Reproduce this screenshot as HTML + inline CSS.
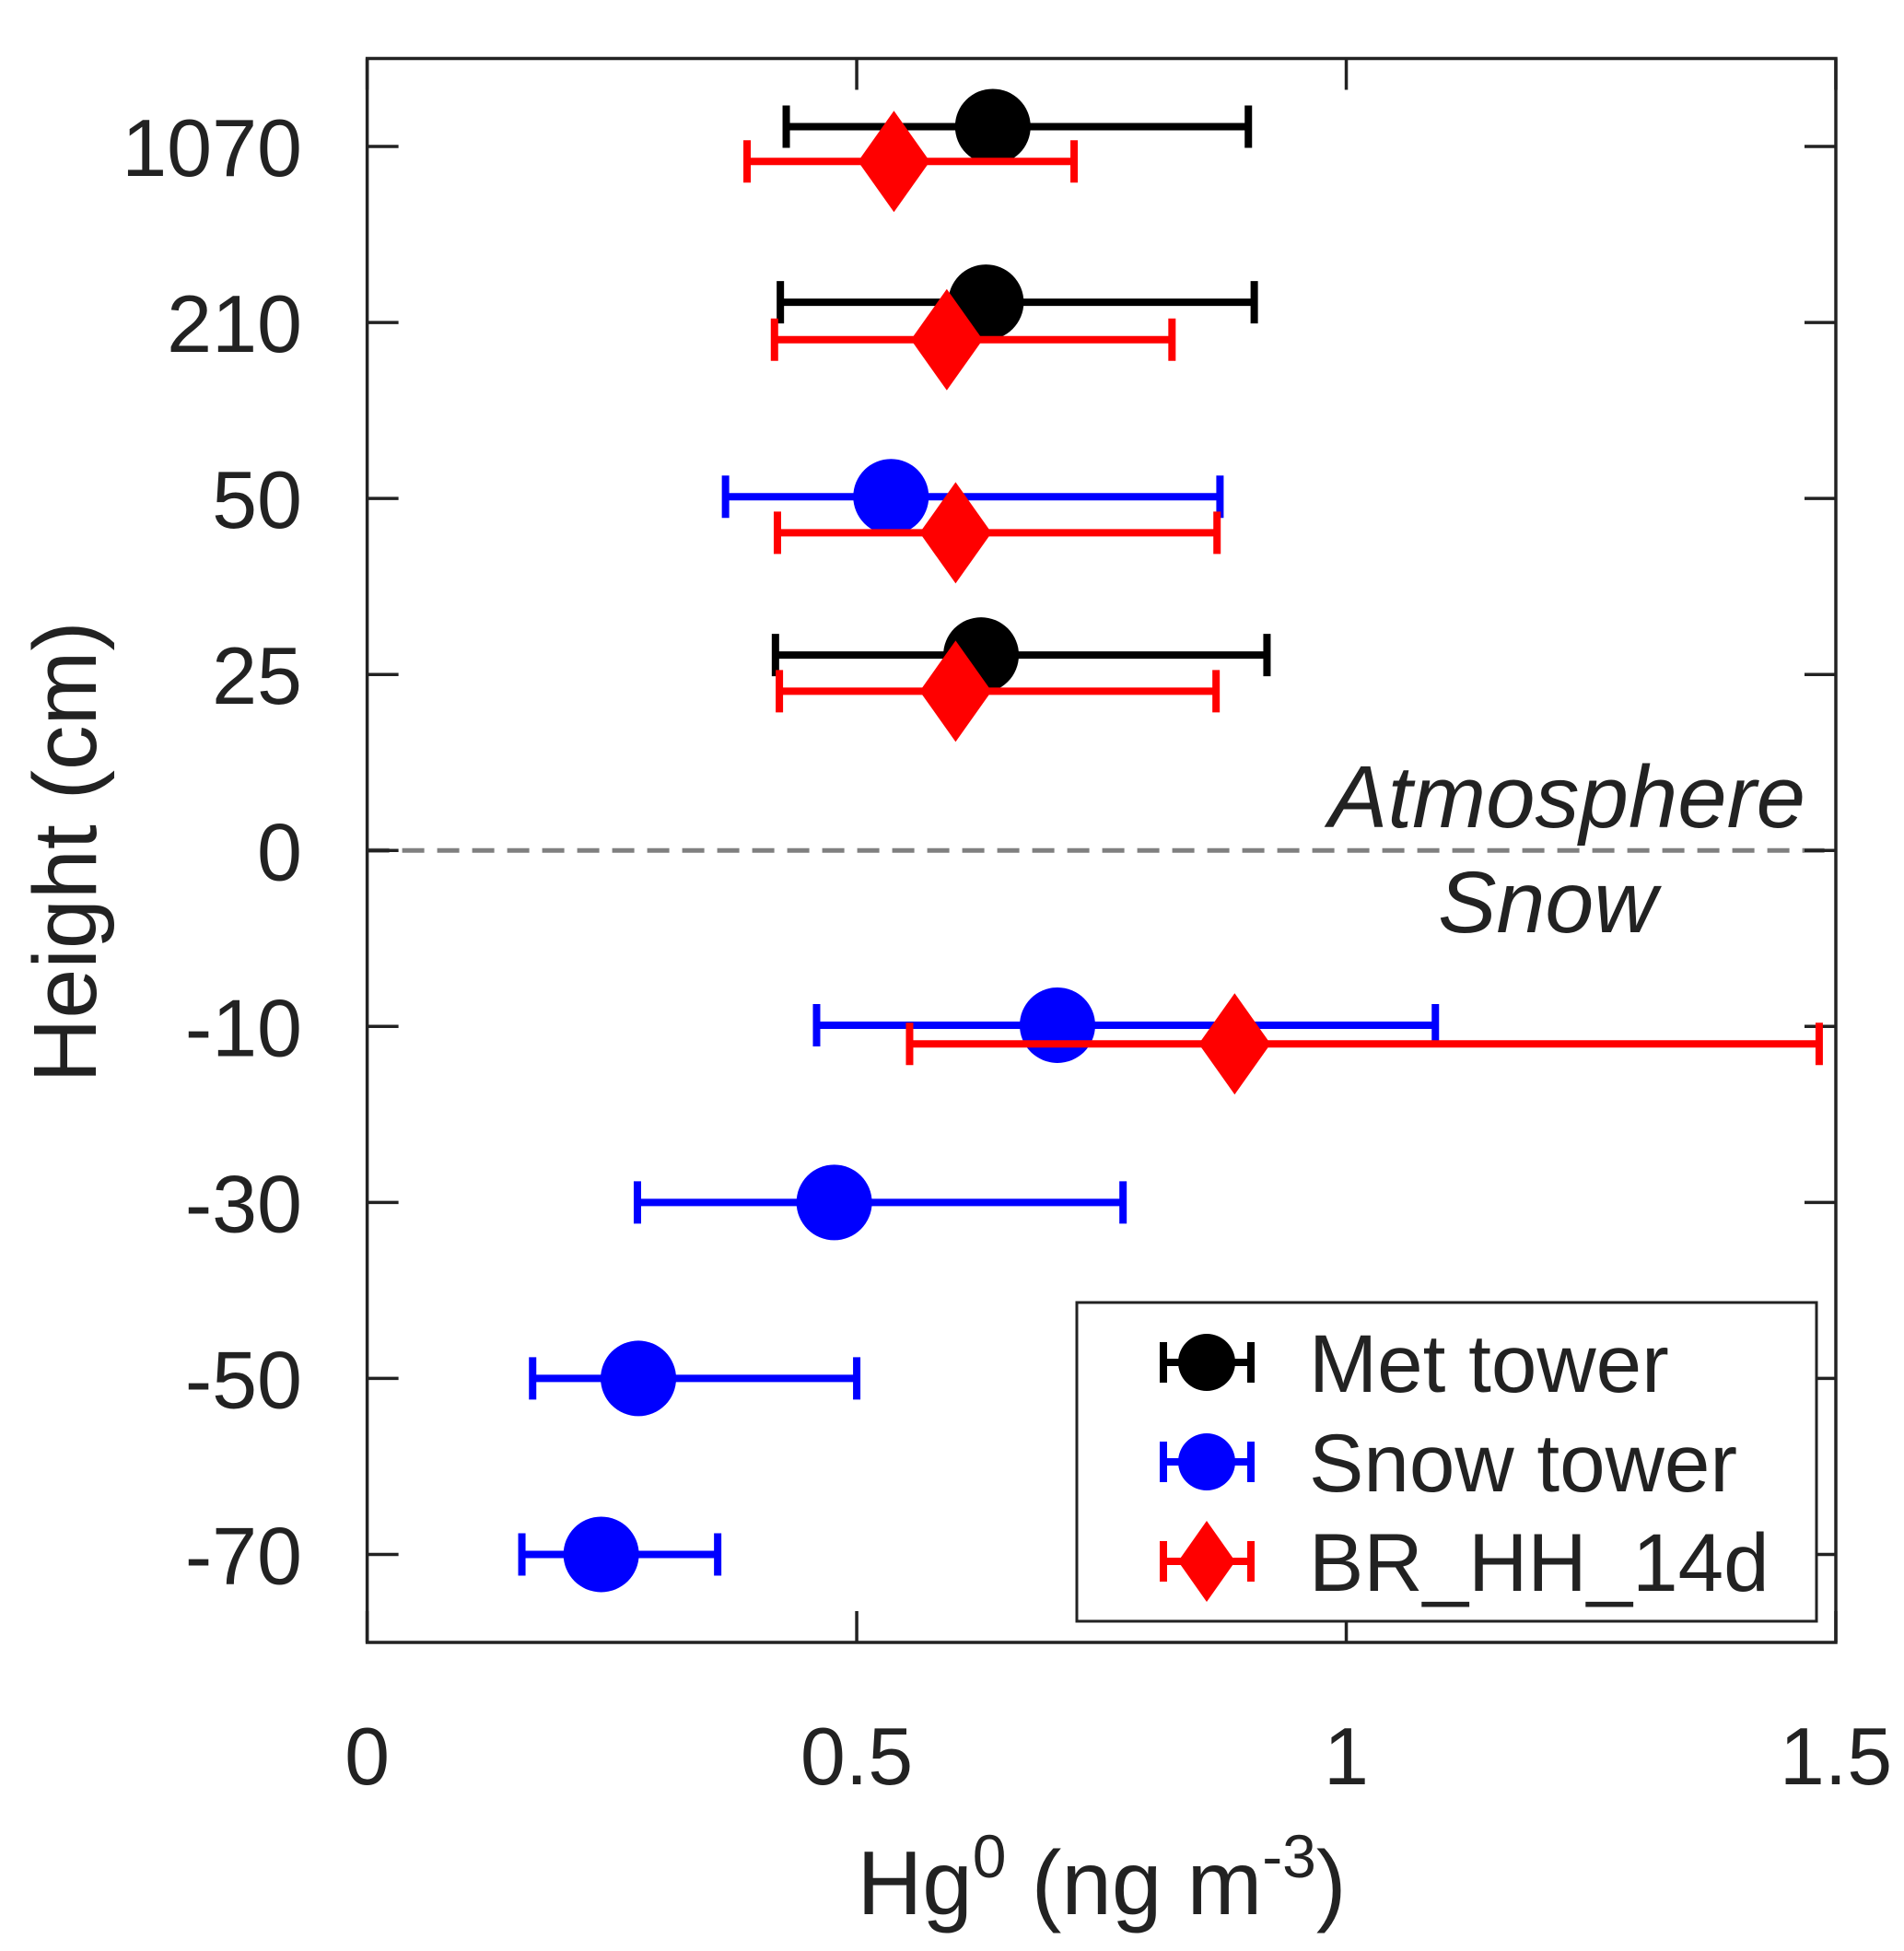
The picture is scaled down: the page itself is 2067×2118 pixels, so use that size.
<!DOCTYPE html>
<html><head><meta charset="utf-8"><style>html,body{margin:0;padding:0;background:#fff}svg{display:block}text{font-family:"Liberation Sans",Arial,sans-serif;fill:#222}</style></head>
<body>
<svg id="chart" width="2067" height="2118" viewBox="0 0 2067 2118" xmlns="http://www.w3.org/2000/svg">
<g id="plot"></g>
</svg>
<script>
const yCategories = ["1070","210","50","25","0","-10","-30","-50","-70"];
const xTicks = [0, 0.5, 1, 1.5];
const xTickLabels = ["0","0.5","1","1.5"];
const metX = [0.639, 0.632, 0.627];
const metLo = [0.428, 0.422, 0.417];
const metHi = [0.900, 0.906, 0.919];
const metY = [-0.113, 0.885, 2.89];
const snowX = [0.535, 0.705, 0.477, 0.277, 0.239];
const snowLo = [0.366, 0.459, 0.276, 0.169, 0.158];
const snowHi = [0.871, 1.091, 0.772, 0.500, 0.358];
const snowY = [1.99, 4.993, 6.0, 7.0, 8.0];
const brX = [0.538, 0.592, 0.601, 0.601, 0.886];
const brLo = [0.388, 0.416, 0.419, 0.421, 0.554];
const brHi = [0.722, 0.822, 0.868, 0.867, 1.483];
const brY = [0.085, 1.098, 2.195, 3.095, 5.099];

const L=398.6,R=1993,T=63.5,B=1783;
const xs=v=>L+(v-0)/1.5*(R-L);
const ys=i=>T+(i+0.5)/9*(B-T);
const NS="http://www.w3.org/2000/svg";
const g=document.getElementById('plot');
function mk(tag,attrs,parent){const e=document.createElementNS(NS,tag);for(const k in attrs)e.setAttribute(k,attrs[k]);(parent||g).appendChild(e);return e;}

let dl=mk('line',{x1:L,x2:R,y1:ys(4),y2:ys(4),stroke:'#808080','stroke-width':5,'stroke-dasharray':'24,14'});



let box=mk('rect',{x:L,y:T,width:R-L,height:B-T,fill:'none',stroke:'#222','stroke-width':3.5});



xTicks.forEach((v,i)=>{
  mk('line',{x1:xs(v),x2:xs(v),y1:B,y2:B-34,stroke:'#222','stroke-width':3.5});
  mk('line',{x1:xs(v),x2:xs(v),y1:T,y2:T+34,stroke:'#222','stroke-width':3.5});
  let t=mk('text',{x:xs(v),y:1937,'text-anchor':'middle','font-size':88});
  t.textContent=xTickLabels[i];
  
  
});
yCategories.forEach((c,i)=>{
  mk('line',{x1:L,x2:L+34,y1:ys(i),y2:ys(i),stroke:'#222','stroke-width':3.5});
  mk('line',{x1:R,x2:R-34,y1:ys(i),y2:ys(i),stroke:'#222','stroke-width':3.5});
  let t=mk('text',{x:328,y:ys(i)+32,'text-anchor':'end','font-size':88});
  t.textContent=c;
  
  
});

function errbar(x,lo,hi,y,color,name){
  const py=ys(y);
  let gg=mk('g',{});
  
  
  mk('line',{x1:xs(lo),x2:xs(hi),y1:py,y2:py,stroke:color,'stroke-width':8},gg);
  mk('line',{x1:xs(lo),x2:xs(lo),y1:py-23,y2:py+23,stroke:color,'stroke-width':8},gg);
  mk('line',{x1:xs(hi),x2:xs(hi),y1:py-23,y2:py+23,stroke:color,'stroke-width':8},gg);
  return gg;
}
function circle(cx,cy,color,parent){return mk('circle',{cx:cx,cy:cy,r:41,fill:color},parent);}
function diamond(cx,cy,color,parent){return mk('polygon',{points:`${cx},${cy-55} ${cx+39},${cy} ${cx},${cy+55} ${cx-39},${cy}`,fill:color},parent);}

metX.forEach((v,i)=>{const gg=errbar(v,metLo[i],metHi[i],metY[i],'#000','met-tower-point');circle(xs(v),ys(metY[i]),'#000',gg);});
snowX.forEach((v,i)=>{const gg=errbar(v,snowLo[i],snowHi[i],snowY[i],'#0000ff','snow-tower-point');circle(xs(v),ys(snowY[i]),'#0000ff',gg);});
brX.forEach((v,i)=>{const gg=errbar(v,brLo[i],brHi[i],brY[i],'#ff0000','br-hh-14d-point');diamond(xs(v),ys(brY[i]),'#ff0000',gg);});

let a=mk('text',{x:1960,y:898,'text-anchor':'end','font-size':96,'font-style':'italic'});a.textContent='Atmosphere';


let s=mk('text',{x:1680,y:1012,'text-anchor':'middle','font-size':95,'font-style':'italic'});s.textContent='Snow';



let lg=mk('g',{});


mk('rect',{x:1169,y:1414,width:803,height:346,fill:'#fff',stroke:'#222','stroke-width':3},lg);
const legNames=['Met tower','Snow tower','BR_HH_14d'],legCol=['#000','#0000ff','#ff0000'],legY=[1479,1587,1695];
legNames.forEach((n,i)=>{
  let e=mk('g',{},lg);
  
  
  const y=legY[i],c=legCol[i];
  mk('line',{x1:1263,x2:1358,y1:y,y2:y,stroke:c,'stroke-width':8},e);
  mk('line',{x1:1263,x2:1263,y1:y-22,y2:y+22,stroke:c,'stroke-width':8},e);
  mk('line',{x1:1358,x2:1358,y1:y-22,y2:y+22,stroke:c,'stroke-width':8},e);
  if(i<2)circle(1310,y,c,e).setAttribute('r',31);else mk('polygon',{points:`1310,${y-44} 1341,${y} 1310,${y+44} 1279,${y}`,fill:c},e);
  let t=mk('text',{x:1421,y:y+32,'font-size':89},e);t.textContent=n;
});

let yt=mk('text',{x:0,y:0,'text-anchor':'middle','font-size':97,transform:'translate(104,925) rotate(-90)'});yt.textContent='Height (cm)';


let xt=mk('text',{x:1196,y:2078,'text-anchor':'middle','font-size':98});
xt.innerHTML='Hg<tspan dy="-40" font-size="66">0</tspan><tspan dy="40"> (ng m</tspan><tspan dy="-40" font-size="66">-3</tspan><tspan dy="40">)</tspan>';


</script>
</body></html>
